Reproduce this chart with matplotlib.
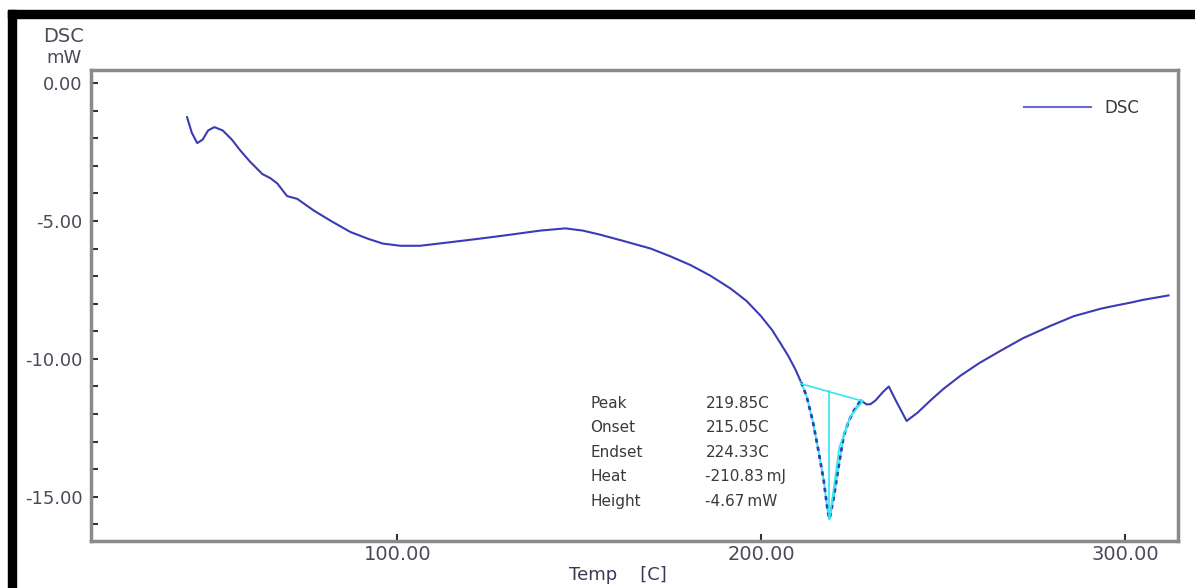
import matplotlib.pyplot as plt
from matplotlib.patches import Rectangle
from matplotlib.ticker import MultipleLocator, FormatStrFormatter

plt.rcParams['font.family'] = ['DejaVu Sans']

# DSC curve (temp in C, heat flow in mW)
temp = [42.2, 43.5, 45.0, 46.5, 48.0, 49.7, 52.0, 54.5, 56.8, 59.5, 62.9, 65.1, 67.0,
        69.7, 72.5, 77.0, 82.0, 87.1, 92.0, 96.0, 100.8, 106.3, 114.0, 122.8, 131.0,
        139.3, 146.2, 151.0, 155.8, 162.0, 169.6, 175.0, 180.6, 186.0, 191.6, 196.0,
        199.9, 203.0, 205.4, 207.5, 209.5, 211.0]
dsc = [-1.24, -1.8, -2.18, -2.05, -1.72, -1.6, -1.72, -2.05, -2.44, -2.85, -3.3, -3.45,
       -3.64, -4.1, -4.2, -4.62, -5.02, -5.4, -5.65, -5.82, -5.9, -5.9, -5.78, -5.64,
       -5.5, -5.35, -5.27, -5.35, -5.5, -5.72, -6.0, -6.28, -6.6, -6.98, -7.45, -7.9,
       -8.44, -8.95, -9.45, -9.9, -10.4, -10.85]

# melting peak section
peak_temp = [211.0, 212.5, 214.2, 215.8, 217.2, 218.3, 218.8, 220.0, 221.3, 222.7,
             224.1, 225.4, 227.4]
peak_dsc = [-10.85, -11.35, -12.25, -13.35, -14.4, -15.5, -15.8, -15.0, -13.9, -12.8,
            -12.25, -11.9, -11.5]

# after the peak
tail_temp = [227.4, 229.0, 230.1, 231.5, 233.5, 235.1, 237.0, 240.0, 243.0, 246.6,
             250.0, 254.9, 260.0, 265.9, 272.0, 279.6, 286.0, 293.4, 297.0, 301.6,
             305.0, 308.5, 312.0]
tail_dsc = [-11.5, -11.65, -11.64, -11.5, -11.2, -11.0, -11.5, -12.25, -11.95, -11.5,
            -11.1, -10.6, -10.15, -9.7, -9.25, -8.8, -8.45, -8.18, -8.08, -7.96,
            -7.86, -7.78, -7.7]

# peak analysis lines
base_temp = [210.9, 227.9]
base_dsc = [-10.9, -11.53]
peak_line_temp = [218.8, 218.8]
peak_line_dsc = [-11.16, -15.8]
edge_temp = [218.8, 221.5, 224.5, 227.9]
edge_dsc = [-15.8, -13.2, -12.1, -11.53]

labels = ['Peak', 'Onset', 'Endset', 'Heat', 'Height']
values = ['219.85C', '215.05C', '224.33C', '-210.83\u2009mJ', '-4.67\u2009mW']

blue = '#3b3bb5'
cyan = '#33e6f0'
grey_text = '#3a3a3a'
tick_text = '#4a4a5a'

fig = plt.figure(figsize=(11.95, 5.88), dpi=100)
ax = fig.add_axes([91 / 1195, 1 - 541 / 588, 1087 / 1195, 471 / 588])

ax.plot(temp, dsc, color=blue, lw=1.5, label='DSC')
ax.plot(tail_temp, tail_dsc, color=blue, lw=1.5)
ax.plot(peak_temp, peak_dsc, color=cyan, lw=1.4)
ax.plot(peak_temp, peak_dsc, color=blue, lw=2.0, linestyle=(0, (1.5, 1.5)))
ax.plot(base_temp, base_dsc, color=cyan, lw=1.2)
ax.plot(peak_line_temp, peak_line_dsc, color=cyan, lw=1.2)
ax.plot(edge_temp, edge_dsc, color=cyan, lw=1.2)

for i in range(len(labels)):
    yy = -11.6 - i * 0.89
    ax.text(153.0, yy, labels[i], fontsize=11, color=grey_text, va='center')
    ax.text(184.7, yy, values[i], fontsize=11, color=grey_text, va='center')

ax.set_xlim(15.8, 314.6)
ax.set_ylim(-16.6, 0.47)
ax.xaxis.set_major_locator(MultipleLocator(100))
ax.yaxis.set_major_locator(MultipleLocator(5))
ax.yaxis.set_minor_locator(MultipleLocator(1))
ax.xaxis.set_major_formatter(FormatStrFormatter('%.2f'))
ax.yaxis.set_major_formatter(FormatStrFormatter('%.2f'))
ax.tick_params(axis='both', which='both', direction='in', color='#333333', width=1.5,
               length=5, labelcolor=tick_text)
ax.tick_params(axis='y', labelsize=13, pad=6)
ax.tick_params(axis='x', labelsize=14, pad=3)
for s in ax.spines.values():
    s.set_color('#8a8a8a')
    s.set_linewidth(2.5)

leg = ax.legend(loc='center right', bbox_to_anchor=(0.972, 0.919), frameon=False,
                handlelength=4.0, fontsize=12, borderpad=0, handletextpad=0.8)
leg.get_lines()[0].set_color('#6a6ad0')
for t in leg.get_texts():
    t.set_color(grey_text)

fig.text(64 / 1195, 1 - 37 / 588, 'DSC', fontsize=14, color=tick_text, ha='center', va='center')
fig.text(64 / 1195, 1 - 58 / 588, 'mW', fontsize=13, color=tick_text, ha='center', va='center')
fig.text(618 / 1195, 1 - 575 / 588, 'Temp    [C]', fontsize=13, color='#3a3a55',
         ha='center', va='center')

# black frame of the screenshot
fig.patches.append(Rectangle((8 / 1195, 1 - 18 / 588), 1, 8 / 588, transform=fig.transFigure,
                             color='black', zorder=10))
fig.patches.append(Rectangle((8 / 1195, 0), 8 / 1195, 1 - 10 / 588, transform=fig.transFigure,
                             color='black', zorder=10))

fig.savefig('out.png', dpi=100)
